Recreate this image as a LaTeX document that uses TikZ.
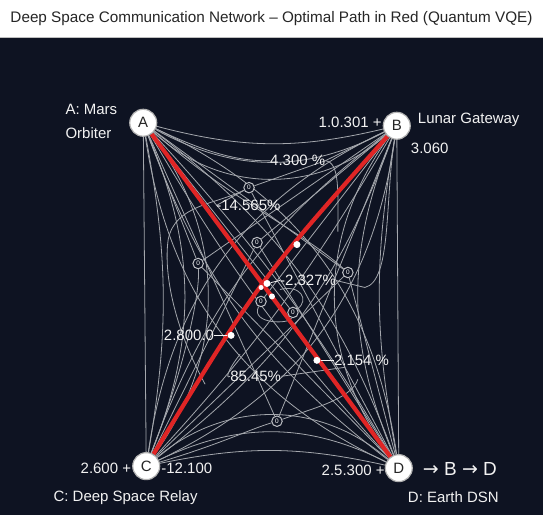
\documentclass[tikz,border=0pt]{standalone}
\usepackage{fontspec}
\setmainfont{Liberation Sans}
\newfontfamily\arrowfont{DejaVu Sans}
\definecolor{bg}{HTML}{0E1322}
\definecolor{edgec}{HTML}{A4A7AD}
\definecolor{redp}{HTML}{E02525}
\definecolor{txt}{HTML}{F2F2F2}
\pgfdeclarelayer{bglayer}
\pgfdeclarelayer{edges}
\pgfsetlayers{bglayer,edges,main}
\begin{document}
\begin{tikzpicture}[x=1pt,y=-1pt,
  gnode/.style={circle,fill=white,draw=gray!60,line width=1.2pt,minimum size=27pt,inner sep=0pt,font=\fontsize{15}{15}\selectfont,text=black!85},
  edge/.style={draw=edgec,line width=0.8pt},
  redpath/.style={draw=redp,line width=4.2pt},
  lbl/.style={text=txt,font=\fontsize{15}{17}\selectfont,inner sep=0pt},
  wdot/.style={circle,fill=white,inner sep=0pt,minimum size=7pt},
  zmark/.style={circle,fill=bg,draw=edgec!70!white,line width=1pt,minimum size=10.5pt,inner sep=0pt,text=white,font=\fontsize{6.5}{6.5}\selectfont},
]
\begin{pgfonlayer}{bglayer}
\fill[bg] (0,0) rectangle (543,516);
\fill[white] (0,0) rectangle (543,37);
\draw[gray!50, line width=1pt] (0,37.5) -- (543,37.5);
\end{pgfonlayer}
\useasboundingbox (0,0) rectangle (543,516);

\node[font=\fontsize{15.3}{17}\selectfont,text=black!85,inner sep=0pt] (title) at (271.5,19) {Deep Space Communication Network – Optimal Path in Red (Quantum VQE)};

% main nodes
\node[gnode] (A) at (143,123) {A};
\node[gnode] (B) at (397,126) {B};
\node[gnode] (C) at (146,467) {C};
\node[gnode] (D) at (399,469) {D};

% markers
\node[zmark] (m1) at (249,188) {0};
\node[zmark] (m2) at (257,243) {0};
\node[zmark] (m3) at (198,264) {0};
\node[zmark] (m4) at (348,273) {0};
\node[zmark] (m5) at (261,302) {0};
\node[zmark] (m6) at (293,313) {0};
\node[zmark] (m7) at (277,422) {0};

% labels
\node[lbl,anchor=west] (la1) at (65,110) {A: Mars};
\node[lbl,anchor=west] (la2) at (65,133) {Orbiter};
\node[lbl,anchor=west] (lb1) at (418,120) {Lunar Gateway};
\node[lbl,anchor=west] (lb2) at (411,149) {3.060};
\node[lbl,anchor=east] (lb3) at (382,123) {1.0.301 +};
\node[lbl,anchor=east] (lc1) at (131,469) {2.600 +};
\node[lbl,anchor=west] (lc2) at (161,469) {-12.100};
\node[lbl,anchor=west] (lc3) at (53,499) {C: Deep Space Relay};
\node[lbl,anchor=east] (ld1) at (385,471) {2.5.300 +};
\node[lbl,anchor=west,font=\fontsize{19}{20}\selectfont] (ld2) at (423,470) {{\arrowfont →} B {\arrowfont →} D};
\node[lbl,anchor=west] (ld3) at (408,498) {D: Earth DSN};
\node[lbl,anchor=west] (e1) at (270,161) {4.300 \%};
\node[lbl,anchor=west] (e2) at (216,206) {-14.565\%};
\node[lbl,anchor=west] (e3) at (280,281) {-2.327\%};
\node[lbl,anchor=east] (e4) at (214,336) {2.800.0};
\node[lbl,anchor=west] (e5) at (334,361) {2.154 \%};
\node[lbl,anchor=west] (e6) at (230,377) {85.45\%};

\begin{pgfonlayer}{edges}
% gray spaghetti
\draw[edge] (A) -- (C);
\foreach \b in {10,22,36} \draw[edge] (A) to[bend left=\b] (C);
\foreach \b in {14,28,42} \draw[edge] (A) to[bend right=\b] (B);
\draw[edge] (B) -- (D);
\foreach \b in {10,22,36} \draw[edge] (B) to[bend right=\b] (D);
\foreach \b in {12,26,40} \draw[edge] (C) to[bend left=\b] (D);
\foreach \b in {6,16,28} {\draw[edge] (A) to[bend left=\b] (D); \draw[edge] (A) to[bend right=\b] (D);}
\foreach \b in {6,16,28} {\draw[edge] (B) to[bend left=\b] (C); \draw[edge] (B) to[bend right=\b] (C);}
\draw[edge] (A) -- (m4); \draw[edge] (A) -- (m6);
\draw[edge] (B) -- (m3); \draw[edge] (B) -- (m5);
\draw[edge] (C) -- (m2); \draw[edge] (C) -- (m4);
\draw[edge] (D) -- (m1); \draw[edge] (D) -- (m3);
% curves through labels and markers
\draw[edge] (A) .. controls (200,150) and (235,162) .. (e1.west);
\draw[edge] (e1.east) -- (B);
\draw[edge] (e1.east) .. controls (340,163) and (338,190) .. (338,232);
\draw[edge] (e1.east) -- (m1) .. controls (215,205) and (175,205) .. (168,240) .. controls (163,275) and (175,330) .. (205,385);
\draw[edge] (m1) -- (e2.west);
\draw[edge] (B) .. controls (385,200) and (392,282) .. (365,288) -- (e3.east);
\draw[edge] (m5) .. controls (250,325) and (290,325) .. (m6) .. controls (310,300) and (300,285) .. (280,290);
\draw[edge] (240,355) .. controls (228,370) and (225,380) .. (e6.west);
\draw[edge] (e6.east) -- (345,368);
\draw[edge] (C) .. controls (220,445) and (250,430) .. (m7) .. controls (310,410) and (352,400) .. (358,380);
\draw[edge] (A) .. controls (230,200) and (300,230) .. (m4) -- (D);
\draw[edge] (C) .. controls (180,380) and (200,300) .. (m3) -- (A);
\draw[edge] (m2) -- (B); \draw[edge] (m2) -- (D);
\draw[edge] (m7) -- (A); \draw[edge] (m7) -- (B);
% red optimal path
\draw[redpath] (A) -- (D);
\draw[redpath] (B) .. controls (260,280) .. (C);
\end{pgfonlayer}

% white dots and their leaders
\node[wdot] (w1) at (297,245) {};
\node[wdot] (w2) at (267,284) {};
\node[wdot,minimum size=5pt] (w3) at (261,288) {};
\node[wdot,minimum size=6pt] (w4) at (272,297) {};
\node[wdot] (w5) at (231,336) {};
\node[wdot] (w6) at (317,361) {};
\draw[txt,line width=0.8pt] (w2) -- (e3.west);
\draw[txt,line width=0.8pt] (e4.east) -- (w5);
\draw[txt,line width=0.8pt] (w6) -- (e5.west);
\end{tikzpicture}
\end{document}
